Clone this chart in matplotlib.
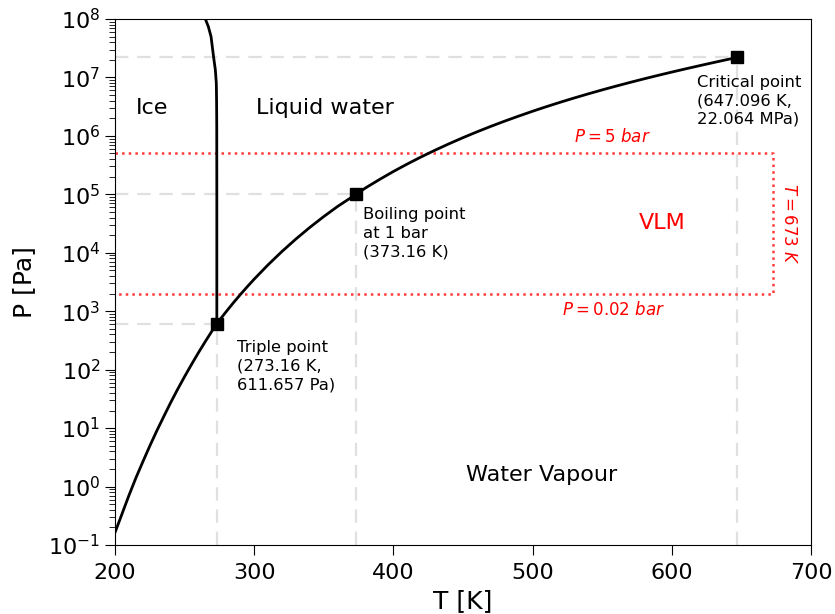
import numpy as np
import matplotlib
matplotlib.use('Agg')
import matplotlib.pyplot as plt
from matplotlib.ticker import LogLocator, NullFormatter

# saturation curve (sublimation + vaporisation)
T_sat = [200, 205, 210, 215, 220, 225, 230, 235, 240, 245, 250, 255, 260, 265, 270,
         273.16, 275, 280, 285, 290, 295, 300, 310, 320, 330, 340, 350, 360, 373.16,
         380, 390, 400, 410, 420, 430, 440, 450, 460, 470, 480, 490, 500, 510, 520,
         530, 540, 550, 560, 570, 580, 590, 600, 610, 620, 630, 640, 647.096]
P_sat = [0.163, 0.338, 0.702, 1.40, 2.65, 4.94, 8.94, 15.7, 27.3, 46.1, 76.0, 123, 196,
         306, 470, 611.657, 698, 991, 1389, 1920, 2621, 3537, 6231, 10546, 17213, 27188,
         41682, 62194, 1.0e5, 1.287e5, 1.792e5, 2.458e5, 3.302e5, 4.372e5, 5.70e5,
         7.334e5, 9.32e5, 1.1706e6, 1.4546e6, 1.789e6, 2.18e6, 2.639e6, 3.165e6,
         3.769e6, 4.457e6, 5.237e6, 6.117e6, 7.106e6, 8.213e6, 9.448e6, 10.821e6,
         12.345e6, 14.033e6, 15.901e6, 17.969e6, 20.265e6, 22.064e6]

# melting curve
T_melt = [273.16, 273.16, 273.1, 273.0, 272.8, 272.08, 270.86, 269.0, 267.05, 264.9]
P_melt = [611.657, 1e5, 1.5e6, 3.6e6, 7.9e6, 1.36e7, 2.21e7, 5.0e7, 7.41e7, 1e8]

# special points
T_pts = [273.16, 373.16, 647.096]
P_pts = [611.657, 1.0e5, 22.064e6]
pt_labels = ['Triple point\n(273.16 K,\n611.657 Pa)',
             'Boiling point\nat 1 bar\n(373.16 K)',
             'Critical point\n(647.096 K,\n22.064 MPa)']
pt_text_pos = [(287.6, 3.2e2), (378, 6.0e4), (618, 1.11e7)]

# VLM box
P_hi = 5e5
P_lo = 2e3
T_box = 673

regions = ['Ice', 'Liquid water', 'Water Vapour']
region_pos = [(226.5, 3.0e6), (351, 3.0e6), (506.5, 1.6)]


def main():
    fig = plt.figure(figsize=(8.35, 6.14), dpi=100)
    ax = fig.add_axes([0.1377, 0.1124, 0.8336, 0.8567])

    grey = '#e0e0e0'
    for T, P in zip(T_pts, P_pts):
        ax.plot([200, T], [P, P], '--', color=grey, lw=1.6, dashes=(6, 4), zorder=1)
        ax.plot([T, T], [0.1, P], '--', color=grey, lw=1.6, dashes=(6, 4), zorder=1)

    red = '#ff3b3b'
    ax.plot([200, T_box, T_box, 200], [P_hi, P_hi, P_lo, P_lo], ':', color=red, lw=1.8, zorder=1)
    ax.text(557, 6.6e5, r'$P = 5\ bar$', color='red', fontsize=12, ha='center', va='bottom')
    ax.text(558, 1.5e3, r'$P = 0.02\ bar$', color='red', fontsize=12, ha='center', va='top')
    ax.text(684, np.sqrt(P_hi * P_lo), r'$T = 673\ K$', color='red', fontsize=12,
            ha='center', va='center', rotation=-90)
    ax.text(593, 3.2e4, 'VLM', color='red', fontsize=16, ha='center', va='center')

    ax.plot(T_sat, P_sat, 'k-', lw=2, zorder=2)
    ax.plot(T_melt, P_melt, 'k-', lw=2, zorder=2)
    ax.plot(T_pts, P_pts, 'ks', markersize=8, zorder=3)

    for lab, (x, y) in zip(pt_labels, pt_text_pos):
        ax.text(x, y, lab, fontsize=11.8, ha='left', va='top', linespacing=1.3)

    for lab, (x, y) in zip(regions, region_pos):
        ax.text(x, y, lab, fontsize=16, ha='center', va='center')

    ax.set_yscale('log')
    ax.set_xlim(200, 700)
    ax.set_ylim(1e-1, 1e8)
    ax.set_yticks([10.0**k for k in range(-1, 9)])
    ax.yaxis.set_minor_locator(LogLocator(base=10, subs=np.arange(2, 10), numticks=100))
    ax.yaxis.set_minor_formatter(NullFormatter())
    ax.tick_params(which='major', labelsize=16, length=7)
    ax.tick_params(which='minor', length=4)
    ax.tick_params(axis='x', pad=6)
    ax.set_xlabel('T [K]', fontsize=18, labelpad=4)
    ax.set_ylabel('P [Pa]', fontsize=18, labelpad=9)

    fig.savefig('out.png', dpi=100)


if __name__ == '__main__':
    main()
